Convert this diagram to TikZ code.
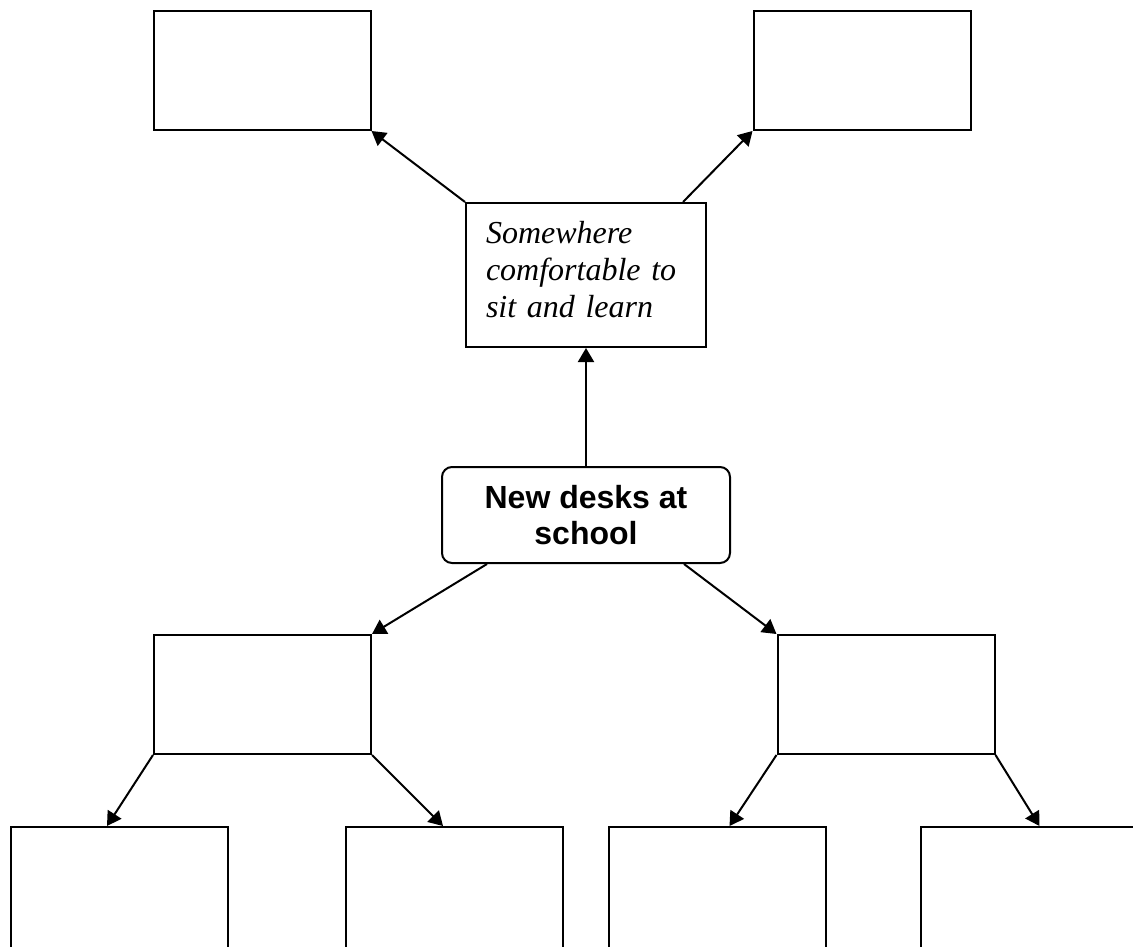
\documentclass[tikz,border=0pt]{standalone}
\usepackage{fontspec}
\setmainfont{Liberation Serif}
\setsansfont{Liberation Sans}
\usetikzlibrary{arrows.meta}

\begin{document}
\begin{tikzpicture}[x=0.5pt, y=-0.5pt, line width=1pt,
    box/.style={draw, rectangle, minimum width=108.5pt, minimum height=59.5pt},
    >={Triangle[length=7pt, width=8pt]}]
  \clip (0,0) rectangle (1133,946);
  \fill[white] (0,0) rectangle (1133,946);

  % Nodes
  \node[box] (T1) at (262,70.5) {};
  \node[box] (T2) at (862,70.5) {};
  \node[draw, text width=100pt, inner xsep=10pt, minimum height=72pt, align=left,
    font=\itshape\fontsize{16}{18.5}\selectfont] (S) at (586,275)
    {Somewhere\\comfortable to\\sit and learn\rule[-6pt]{0pt}{6pt}};
  \node[draw, rounded corners=5pt, minimum width=144pt, minimum height=48pt, align=center,
    font=\sffamily\bfseries\fontsize{16}{18.3}\selectfont] (D) at (586,515)
    {New desks at\\school};
  \node[box] (L) at (262.5,694.5) {};
  \node[box] (R) at (886,694.5) {};
  \node[box, minimum height=70pt, anchor=north] (LL) at (119,826) {};
  \node[box, minimum height=70pt, anchor=north] (LR) at (454,826) {};
  \node[box, minimum height=70pt, anchor=north] (RL) at (717.5,826) {};
  \node[box, minimum height=70pt, anchor=north] (RR) at (1029.5,826) {};

  % Arrows
  \draw[->] (S.north west) -- (T1.south east);
  \draw[->] ([xshift=-12pt]S.north east) -- (T2.south west);
  \draw[->] (D.north) -- (S.south);
  \draw[->] ([xshift=23pt]D.south west) -- (L.north east);
  \draw[->] ([xshift=-23.5pt]D.south east) -- (R.north west);
  \draw[->] (L.south west) -- ([xshift=-6pt]LL.north);
  \draw[->] (L.south east) -- ([xshift=-5.5pt]LR.north);
  \draw[->] (R.south west) -- ([xshift=6pt]RL.north);
  \draw[->] (R.south east) -- ([xshift=5pt]RR.north);
\end{tikzpicture}
\end{document}
